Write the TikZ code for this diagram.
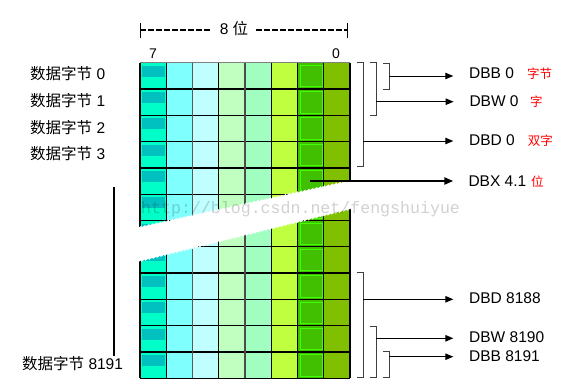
\documentclass[tikz,border=0pt]{standalone}
\usepackage{fontspec}
\setmainfont{Liberation Sans}
\newfontfamily\cjk{Noto Sans CJK SC}
\newfontfamily\wmfont{Liberation Mono}
\usetikzlibrary{arrows.meta,decorations.pathmorphing}
\definecolor{c0}{HTML}{00FFC8}
\definecolor{c0d}{HTML}{00C0C0}
\definecolor{c1}{HTML}{80FFFF}
\definecolor{c2}{HTML}{C0FFFF}
\definecolor{c3}{HTML}{C0FFC0}
\definecolor{c4}{HTML}{A0FFC0}
\definecolor{c5}{HTML}{C0FF40}
\definecolor{c6}{HTML}{40C000}
\definecolor{c6b}{HTML}{40FF00}
\definecolor{c7}{HTML}{80C000}
\definecolor{brkc}{HTML}{404040}
\definecolor{redlbl}{HTML}{FF0000}
\begin{document}
\begin{tikzpicture}[x=1pt,y=-1pt,
  lbl/.style={font=\fontsize{15.5}{15.5}\selectfont, inner sep=0pt, anchor=base west},
  redl/.style={font=\cjk\fontsize{12.5}{12.5}\selectfont, text=redlbl, inner sep=0pt, anchor=base west},
  bitno/.style={font=\fontsize{14}{14}\selectfont, inner sep=0pt, anchor=base west},
  gridline/.style={line width=1.3pt},
  bracketline/.style={draw=brkc, line width=1pt},
  arr/.style={line width=1pt, -{Triangle[length=8pt,width=6.5pt]}, shorten >=15.7pt},
  arrthick/.style={line width=2.6pt, -{Triangle[length=9pt,width=7pt]}, shorten >=15pt}]
\useasboundingbox (0,0) rectangle (583,388);

% column fills
\foreach \c [count=\i from 0] in {c0,c1,c2,c3,c4,c5,c6,c7}
  \fill[\c] ({140+26.25*\i},62.7) rectangle ++(26.25,315.6);
% inner details
\foreach \j in {0,...,11}{
  \fill[c0d] (142,{62.7+26.3*\j+3}) rectangle (164.7,{62.7+26.3*\j+14});
  \draw[c6b, line width=0.8pt] (300,{62.7+26.3*\j+2.5}) rectangle (322,{62.7+26.3*\j+24});
}
% horizontal lines
\foreach \j in {1,...,12}
  \draw[gridline] (140,{62.7+26.3*\j}) -- (350,{62.7+26.3*\j});
\draw[line width=1pt, gray] (140,62.7) -- (350,62.7);
% vertical lines
\foreach \i/\col in {0/black,1/black,2/gray!70!black,3/black,4/gray!60!black,5/black,6/black,7/black,8/black}
  \draw[gridline, draw=\col] ({140+26.25*\i},62.7) -- ({140+26.25*\i},378.3);

% break band
\fill[white, decorate, decoration={saw, segment length=4pt, amplitude=1.6pt}]
  (134,229) -- (356,180) -- (356,207) -- (134,262) -- cycle;

% watermark
\node[font=\wmfont\fontsize{16.6}{16.6}\selectfont, text=black, text opacity=0.18, anchor=base west, inner sep=0pt] (wm) at (141,213) {http://blog.csdn.net/fengshuiyue};

% top dimension
\coordinate (lt) at (140,30);
\coordinate (rt) at (347.3,30);
\node[font=\fontsize{15.5}{15.5}\selectfont, inner xsep=8pt, inner ysep=0pt] (ttl) at (234,29) {8 {\cjk 位}};
\draw[line width=1.1pt, dash pattern=on 6pt off 2pt] (lt) -- (ttl.west |- lt);
\draw[line width=1.1pt, dash pattern=on 6pt off 2pt] (ttl.east |- rt) -- (rt);
\draw[line width=1pt] (140,23) -- (140,38);
\draw[line width=1pt] (347.3,23) -- (347.3,38);
\node[bitno] (b7) at (149,58.3) {7};
\node[bitno] (b0n) at (332,58.3) {0};

% left labels
\node[lbl] (by0) at (30,79.5) {{\cjk 数据字节} 0};
\node[lbl] (by1) at (30,106.5) {{\cjk 数据字节} 1};
\node[lbl] (by2) at (30,133) {{\cjk 数据字节} 2};
\node[lbl] (by3) at (30,159.5) {{\cjk 数据字节} 3};
\node[lbl] (by8191) at (22,369.5) {{\cjk 数据字节} 8191};
\draw[line width=2pt] (114,187) -- (114,356);

% right labels
\node[lbl] (dbb0) at (469,78.3) {DBB 0};
\node[redl] (r1) at (527,78.3) {字节};
\node[lbl] (dbw0) at (469.3,106) {DBW 0};
\node[redl] (r2) at (530,106) {字};
\node[lbl] (dbd0) at (469,145) {DBD 0};
\node[redl] (r3) at (527.7,145) {双字};
\node[lbl] (dbx) at (468.3,186.5) {DBX 4.1};
\node[redl] (r4) at (531,186.5) {位};
\node[lbl] (dbd8188) at (469,303.3) {DBD 8188};
\node[lbl] (dbw8190) at (469,342.7) {DBW 8190};
\node[lbl] (dbb8191) at (469,361.7) {DBB 8191};

% brackets
\draw[bracketline] (383.3,63.3) -- (389.3,63.3) -- (389.3,89.3) -- (383.3,89.3);
\draw[bracketline] (370,62.7) -- (376,62.7) -- (376,115) -- (370,115);
\draw[bracketline] (356.7,62.7) -- (363.3,62.7) -- (363.3,166.7) -- (356.7,166.7);
\draw[bracketline] (356.7,272.7) -- (363.3,272.7) -- (363.3,377.7) -- (356.7,377.7);
\draw[bracketline] (370,326) -- (376,326) -- (376,377.7) -- (370,377.7);
\draw[bracketline] (383.3,351.7) -- (389.3,351.7) -- (389.3,377.7) -- (383.3,377.7);

% arrows
\coordinate (sB0) at (389.3,76);
\coordinate (sW0) at (376,101.7);
\coordinate (sD0) at (363.3,141);
\coordinate (sX) at (310,181);
\coordinate (sD8188) at (363.3,299.3);
\coordinate (sW8190) at (376,338.3);
\coordinate (sB8191) at (389.3,356.7);
\draw[arr] (sB0) -- (sB0 -| dbb0.west);
\draw[arr] (sW0) -- (sW0 -| dbw0.west);
\draw[arr] (sD0) -- (sD0 -| dbd0.west);
\draw[arrthick] (sX) -- (sX -| dbx.west);
\draw[arr] (sD8188) -- (sD8188 -| dbd8188.west);
\draw[arr] (sW8190) -- (sW8190 -| dbw8190.west);
\draw[arr] (sB8191) -- (sB8191 -| dbb8191.west);
\end{tikzpicture}
\end{document}
